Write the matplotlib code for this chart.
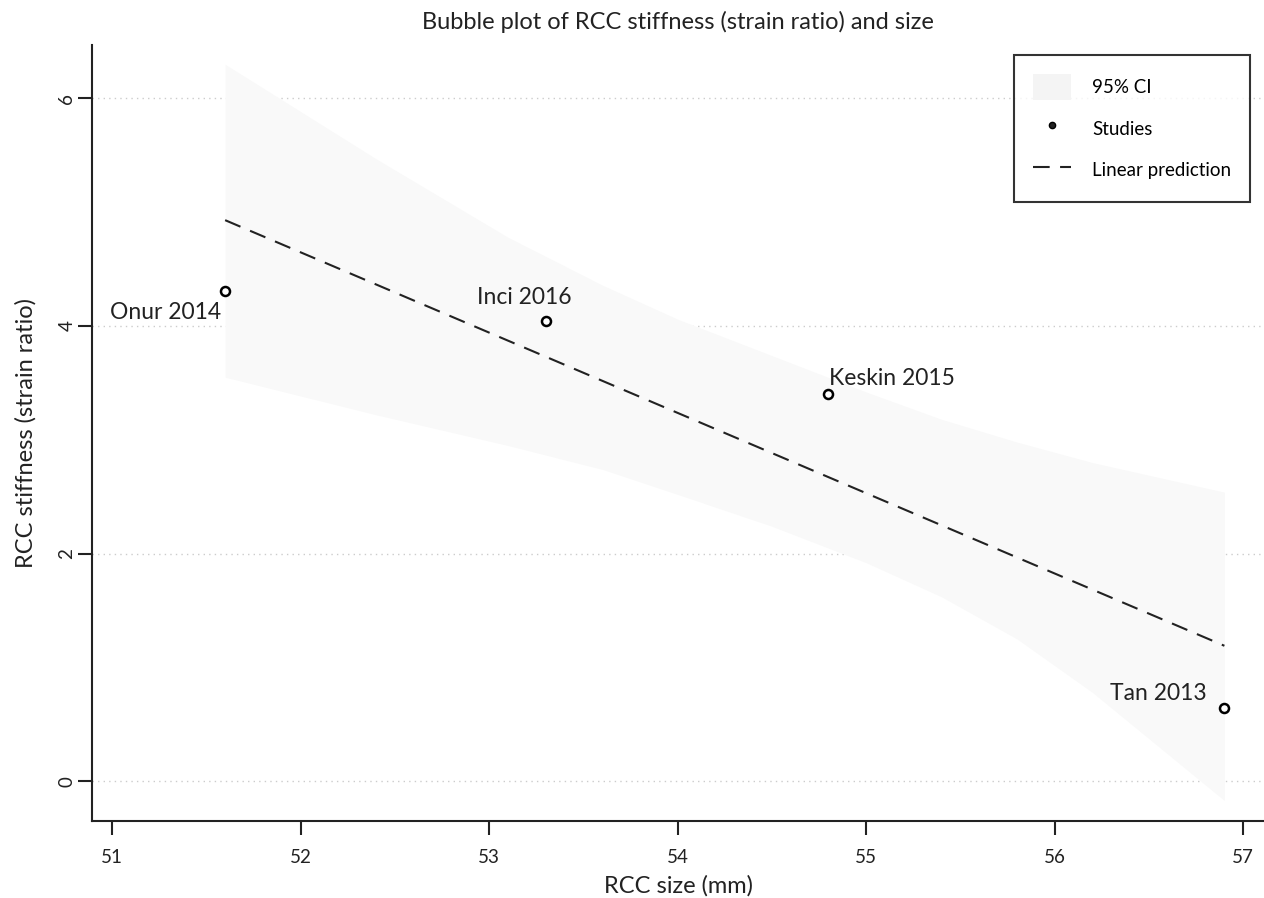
import matplotlib.pyplot as plt
from matplotlib.patches import Patch
from matplotlib.lines import Line2D

# studies (size in mm, strain ratio)
studies = ["Onur 2014", "Inci 2016", "Keskin 2015", "Tan 2013"]
size_mm = [51.6, 53.3, 54.8, 56.9]
strain_ratio = [4.31, 4.04, 3.40, 0.64]

# linear prediction end points
pred_x = [51.6, 56.9]
pred_y = [4.93, 1.19]

# 95% CI band
ci_x = [51.6, 52.4, 53.1, 53.6, 54.0, 54.5, 55.0, 55.4, 55.8, 56.2, 56.9]
ci_upper = [6.30, 5.47, 4.78, 4.36, 4.06, 3.74, 3.42, 3.18, 2.98, 2.80, 2.54]
ci_lower = [3.55, 3.22, 2.95, 2.74, 2.52, 2.24, 1.92, 1.62, 1.25, 0.78, -0.17]

# label offsets in pixels (text placement round each point)
label_pos = {
    "Onur 2014": (-4, -22, "right"),
    "Inci 2016": (-21, 24, "center"),
    "Keskin 2015": (1, 16, "left"),
    "Tan 2013": (-18, 15, "right"),
}

plt.rcParams['font.family'] = ['Lato', 'DejaVu Sans']

fig = plt.figure(figsize=(12.64, 8.98), dpi=100)
ax = fig.add_axes([0.0728, 0.0857, 0.9272, 0.8643])

ax.fill_between(ci_x, ci_lower, ci_upper, color='#f9f9f9', linewidth=0, zorder=1)
ax.plot(pred_x, pred_y, color='#222222', lw=1.5, dashes=(8, 5), zorder=3)
ax.plot(size_mm, strain_ratio, 'o', ms=6.5, mfc='white', mec='black', mew=1.8, zorder=4)

for name, x, y in zip(studies, size_mm, strain_ratio):
    dx, dy, ha = label_pos[name]
    ax.annotate(name, (x, y), xytext=(dx, dy), textcoords='offset pixels',
                ha=ha, va='center', fontsize=16.5, color='#222222')

for yv in [0, 2, 4, 6]:
    ax.axhline(yv, color='#cccccc', lw=1, ls=(0, (1, 3)), zorder=0)

ax.set_xlim(50.894, 57.11)
ax.set_ylim(-0.35, 6.47)
ax.set_xticks([51, 52, 53, 54, 55, 56, 57])
ax.set_yticks([0, 2, 4, 6])
ax.tick_params(axis='both', direction='out', length=10, width=1.5, color='#222222',
               labelsize=13.5, labelcolor='#222222')
ax.tick_params(axis='x', pad=10)
ax.tick_params(axis='y', labelrotation=90, pad=2)
for lab in ax.get_yticklabels():
    lab.set_va('center')

for s in ['top', 'right']:
    ax.spines[s].set_visible(False)
for s in ['left', 'bottom']:
    ax.spines[s].set_linewidth(1.5)
    ax.spines[s].set_color('#222222')

ax.set_xlabel('RCC size (mm)', fontsize=17, color='#222222', labelpad=7)
ax.set_ylabel('RCC stiffness (strain ratio)', fontsize=17, color='#222222', labelpad=16)
fig.suptitle('Bubble plot of RCC stiffness (strain ratio) and size', x=0.536, y=0.975,
             va='center', fontsize=17, color='#222222')

handles = [
    Patch(facecolor='#f4f4f4', edgecolor='none', label='95% CI'),
    Line2D([], [], marker='o', ls='none', ms=4.5, mfc='#222222', mec='black', label='Studies'),
    Line2D([], [], color='#222222', lw=1.5, dashes=(8, 5), label='Linear prediction'),
]
leg = ax.legend(handles=handles, loc='upper right', bbox_to_anchor=(0.988, 0.987),
                fontsize=13.5, frameon=True, fancybox=False, labelspacing=0.85,
                borderpad=1.0, handlelength=2.05, handleheight=1.75, handletextpad=1.1,
                borderaxespad=0)
leg.get_frame().set_edgecolor('black')
leg.get_frame().set_linewidth(1.5)

fig.savefig('out.png', dpi=100)
